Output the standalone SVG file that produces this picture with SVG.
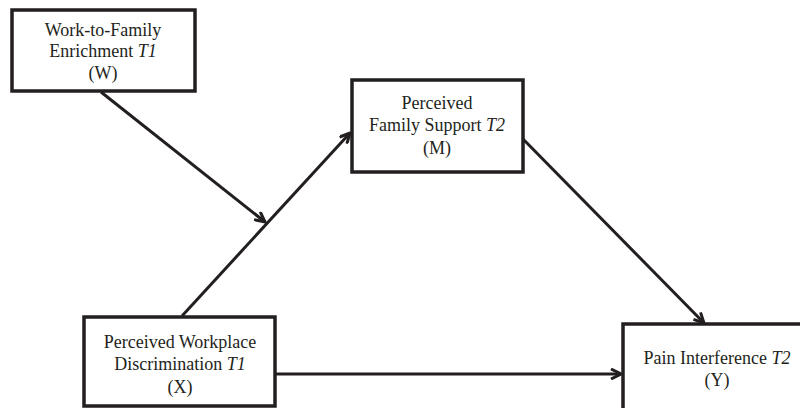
<svg xmlns="http://www.w3.org/2000/svg" width="800" height="408" viewBox="0 0 800 408">
<style>
.box{fill:#fff;stroke:#231f20;stroke-width:3.5}
.t{font-family:"Liberation Serif","Times New Roman",serif;font-size:18px;fill:#231f20;text-anchor:middle}
.i{font-style:italic}
.c{fill:none;stroke:#231f20;stroke-width:3}
</style>
<defs>
<marker id="ah" viewBox="0 0 12 12" refX="11" refY="6" markerWidth="12" markerHeight="12" markerUnits="userSpaceOnUse" orient="auto">
<polyline points="1,1 11,6 1,11" fill="none" stroke="#231f20" stroke-width="3"/>
</marker>
</defs>
<rect x="0" y="0" width="800" height="408" fill="#fff"/>
<g id="connectors">
<line class="c" x1="101" y1="92" x2="265" y2="222" marker-end="url(#ah)"/>
<line class="c" x1="182" y1="316" x2="350" y2="133" marker-end="url(#ah)"/>
<line class="c" x1="523" y1="139" x2="704" y2="323" marker-end="url(#ah)"/>
<line class="c" x1="276" y1="374" x2="621" y2="374" marker-end="url(#ah)"/>
</g>
<g id="W">
<rect class="box" x="12" y="10" width="183" height="81"/>
<text class="t" x="103" y="36">Work-to-Family</text>
<text class="t" x="103" y="57">Enrichment <tspan class="i">T1</tspan></text>
<text class="t" x="103" y="79">(W)</text>
</g>
<g id="M">
<rect class="box" x="352" y="80" width="171" height="92"/>
<text class="t" x="437" y="109">Perceived</text>
<text class="t" x="437" y="131">Family Support <tspan class="i">T2</tspan></text>
<text class="t" x="437" y="154">(M)</text>
</g>
<g id="X">
<rect class="box" x="84" y="317" width="191" height="89"/>
<text class="t" x="180" y="348">Perceived Workplace</text>
<text class="t" x="180" y="370">Discrimination <tspan class="i">T1</tspan></text>
<text class="t" x="180" y="393">(X)</text>
</g>
<g id="Y">
<rect class="box" x="623" y="324" width="180" height="90"/>
<text class="t" x="717" y="364">Pain Interference <tspan class="i">T2</tspan></text>
<text class="t" x="717" y="386">(Y)</text>
</g>
</svg>
